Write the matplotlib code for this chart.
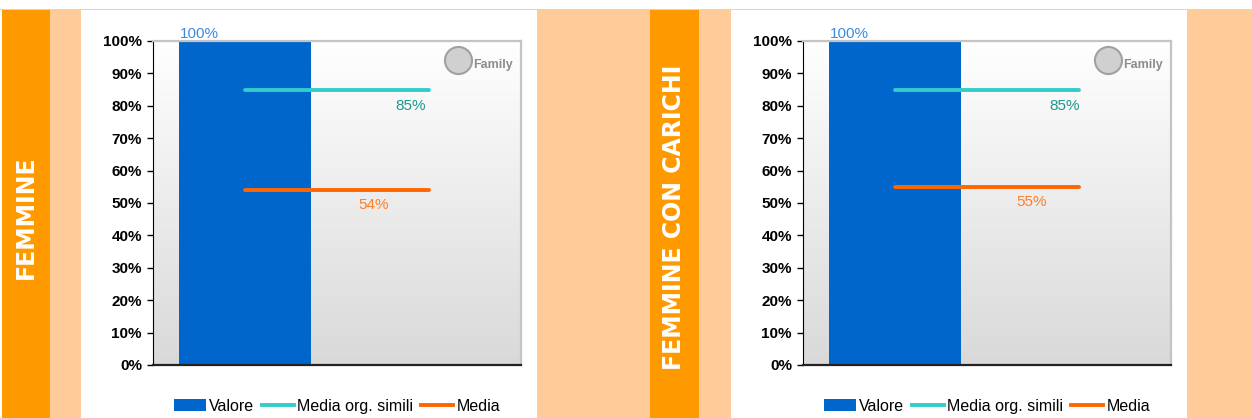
import numpy as np
import matplotlib
matplotlib.use('Agg')
import matplotlib.pyplot as plt
from matplotlib.patches import Rectangle, Patch
from matplotlib.lines import Line2D

plt.rcParams['font.family'] = ['Liberation Sans', 'DejaVu Sans']

# dati
titoli = ['FEMMINE', 'FEMMINE CON CARICHI']
valore = [100, 100]
media_simili = [85, 85]
media = [54, 55]
serie = ['Valore', 'Media org. simili', 'Media']
tick_labels = ['0%', '10%', '20%', '30%', '40%', '50%', '60%', '70%', '80%', '90%', '100%']

BLU = '#0066CC'
CIANO = '#33CCCC'
ARANCIO = '#FF6600'
ARANCIO_SCURO = '#FF9900'
ARANCIO_CHIARO = '#FFCC99'

W, H = 1252, 418
fig = plt.figure(figsize=(W / 100, H / 100), dpi=100)
fig.patch.set_facecolor('white')


def rect(x0, x1, y0, y1, color):
    # coordinate in pixel, y dall'alto
    fig.patches.append(Rectangle((x0 / W, 1 - y1 / H), (x1 - x0) / W, (y1 - y0) / H,
                                 transform=fig.transFigure, facecolor=color,
                                 edgecolor='none', zorder=0))


fig.patches.append(Rectangle((0, 1 - 10 / H), 1, 1.5 / H, transform=fig.transFigure,
                             facecolor=ARANCIO_CHIARO, edgecolor='none', zorder=0))
for x0, x1 in [(50, 81), (537, 650), (699, 731), (1187, 1252)]:
    rect(x0, x1, 10, 418, ARANCIO_CHIARO)
for x0, x1 in [(2, 50), (650, 699)]:
    rect(x0, x1, 10, 418, ARANCIO_SCURO)

strip_x = [26, 674]
ax_left = [153, 803]
label_simili_x = [0.90, 0.92]
label_media_x = [0.70, 0.745]

grad = np.linspace(0, 1, 256).reshape(-1, 1)
cmap = matplotlib.colors.LinearSegmentedColormap.from_list('g', ['#FFFFFF', '#D9D9D9'])

for i in range(2):
    fig.text(strip_x[i] / W, 1 - 217 / H, titoli[i], rotation=90, color='white',
             fontsize=17, fontweight='bold', family='DejaVu Sans',
             ha='center', va='center')

    ax = fig.add_axes([ax_left[i] / W, (H - 365) / H, 368 / W, 324 / H])
    ax.imshow(grad, extent=[-0.5, 1.5, 0, 100], aspect='auto', cmap=cmap,
              origin='upper', zorder=0)
    ax.bar([0], [valore[i]], width=0.72, color=BLU, zorder=2)
    ax.plot([0, 1], [media_simili[i]] * 2, color=CIANO, lw=2.8,
            solid_capstyle='round', zorder=3)
    ax.plot([0, 1], [media[i]] * 2, color=ARANCIO, lw=2.8,
            solid_capstyle='round', zorder=3)
    ax.set_xlim(-0.5, 1.5)
    ax.set_ylim(0, 100)

    ax.annotate(f'{valore[i]}%', (-0.25, valore[i]), xytext=(0, 0),
                textcoords='offset points', ha='center', va='bottom',
                fontsize=11, color='#3D8BE0')
    ax.annotate(f'{media_simili[i]}%', (label_simili_x[i], media_simili[i]),
                xytext=(0, -11.5), textcoords='offset points', ha='center',
                va='center', fontsize=11, color='#1A9A8F')
    ax.annotate(f'{media[i]}%', (label_media_x[i], media[i]),
                xytext=(0, -11), textcoords='offset points', ha='center',
                va='center', fontsize=11, color='#FF7F27')

    ax.set_yticks(np.arange(0, 101, 10))
    ax.set_yticklabels(tick_labels, fontweight='bold', fontsize=11)
    ax.set_xticks([])
    ax.tick_params(axis='y', direction='out', length=4, width=1, color='black', pad=4)
    ax.spines['left'].set_color('black')
    ax.spines['bottom'].set_color('#222222')
    ax.spines['bottom'].set_linewidth(1.6)
    for s in ['top', 'right']:
        ax.spines[s].set_color('#C4C4C4')
        ax.spines[s].set_linewidth(1.6)

    # logo
    ax.scatter([0.83], [0.94], s=380, facecolor='#D0D0D0', edgecolor='#A0A0A0',
               linewidth=1.5, transform=ax.transAxes, zorder=4)
    ax.text(0.87, 0.925, 'Family', transform=ax.transAxes, fontsize=9,
            fontweight='bold', color='#8C8C8C', ha='left', va='center', zorder=4)

    handles = [Patch(facecolor=BLU, edgecolor='none'),
               Line2D([], [], color=CIANO, lw=2.8),
               Line2D([], [], color=ARANCIO, lw=2.8)]
    ax.legend(handles, serie, loc='center', bbox_to_anchor=(0.5, -0.127), ncol=3,
              frameon=False, fontsize=11.5, handlelength=2.0, handletextpad=0.2,
              columnspacing=0.5, borderaxespad=0)

fig.savefig('out.png', dpi=100)
